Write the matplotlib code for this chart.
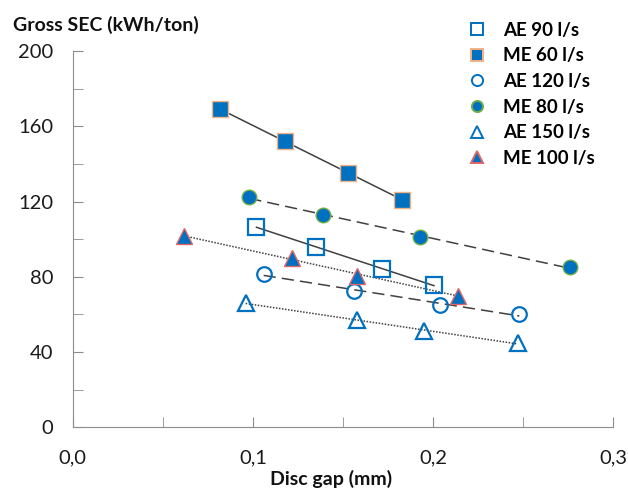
import numpy as np
import matplotlib
matplotlib.use("Agg")
import matplotlib.pyplot as plt

plt.rcParams['font.family'] = ['Lato', 'DejaVu Sans']

# Data
labels = ["AE 90 l/s", "ME 60 l/s", "AE 120 l/s", "ME 80 l/s", "AE 150 l/s", "ME 100 l/s"]
ae90_x = [0.102, 0.135, 0.172, 0.2006]
ae90_y = [106.5, 95.7, 84.0, 75.5]
me60_x = [0.082, 0.118, 0.153, 0.183]
me60_y = [169.0, 152.0, 135.0, 121.0]
ae120_x = [0.106, 0.156, 0.204, 0.248]
ae120_y = [81.5, 72.3, 65.0, 60.0]
me80_x = [0.098, 0.139, 0.193, 0.276]
me80_y = [122.3, 112.8, 101.0, 85.0]
ae150_x = [0.096, 0.158, 0.195, 0.247]
ae150_y = [66.0, 57.0, 51.0, 44.7]
me100_x = [0.062, 0.122, 0.158, 0.214]
me100_y = [101.5, 90.0, 80.5, 70.0]

x_ticks = [0.0, 0.1, 0.2, 0.3]
x_ticklabels = ["0,0", "0,1", "0,2", "0,3"]
y_ticks = [0, 40, 80, 120, 160, 200]

blue = "#0070C0"
series = [
    (ae90_x, ae90_y, 's', 'none', blue, '-', 11),
    (me60_x, me60_y, 's', blue, '#F4B183', '-', 11),
    (ae120_x, ae120_y, 'o', 'none', blue, (0, (8, 4)), 10.5),
    (me80_x, me80_y, 'o', blue, '#70AD47', (0, (8, 4)), 10.5),
    (ae150_x, ae150_y, '^', 'none', blue, (0, (1, 1)), 11),
    (me100_x, me100_y, '^', blue, '#E06666', (0, (1, 1)), 11),
]

fig = plt.figure(figsize=(6.28, 4.91), dpi=100)
ax = fig.add_axes([0.116, 0.130, 0.860, 0.766])

handles = []
for (xs, ys, mk, fc, ec, ls, ms), lab in zip(series, labels):
    xs = np.array(xs); ys = np.array(ys)
    p = np.polyfit(xs, ys, 1)
    xl = np.array([xs.min(), xs.max()])
    ax.plot(xl, np.polyval(p, xl), color='#404040', lw=1.1, ls=ls, zorder=2)
    h, = ax.plot(xs, ys, ls='none', marker=mk, ms=ms, mfc=fc, mec=ec,
                 mew=1.6 if fc == 'none' else 1.0, zorder=3, label=lab)
    handles.append(h)

ax.set_xlim(0, 0.3)
ax.set_ylim(0, 200)
ax.set_xticks(x_ticks)
ax.set_xticklabels(x_ticklabels)
ax.set_xticks([0.05, 0.15, 0.25], minor=True)
ax.set_yticks(y_ticks)
ax.set_yticks([20, 60, 100, 140, 180], minor=True)
for s in ['top', 'right']:
    ax.spines[s].set_visible(False)
for s in ['left', 'bottom']:
    ax.spines[s].set_color('#8c8c8c')
ax.tick_params(which='both', direction='in', length=7, color='#8c8c8c',
               labelsize=14.5, labelcolor='#1a1a1a')
ax.tick_params(axis='x', pad=16)
ax.tick_params(axis='y', pad=14)

fig.text(0.02, 0.95, "Gross SEC (kWh/ton)", fontsize=14, fontweight='bold',
         ha='left', va='center', color='#111111')
fig.text(0.527, 0.006, "Disc gap (mm)", fontsize=14, fontweight='bold',
         ha='center', va='bottom', color='#111111')

leg = fig.legend(handles=[plt.Line2D([], [], ls='none', marker=h.get_marker(),
                                     ms=8, mfc=h.get_markerfacecolor(),
                                     mec=h.get_markeredgecolor(), mew=1.4)
                          for h in handles],
                 labels=labels, loc='upper left', bbox_to_anchor=(0.718, 0.99),
                 frameon=False, handlelength=1.0, handletextpad=0.9,
                 labelspacing=0.46, prop={'weight': 'bold', 'size': 13.5})

fig.savefig("out.png", dpi=100)
